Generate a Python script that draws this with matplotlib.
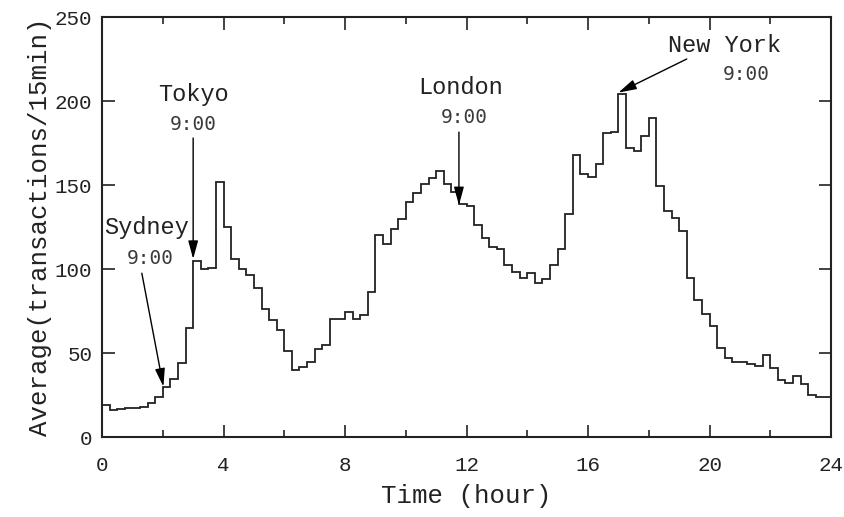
import numpy as np
import matplotlib
matplotlib.use("Agg")
import matplotlib.pyplot as plt

# average number of transactions per 15-minute bin over a day (96 bins)
bin_hours = 0.25
counts = [
    19, 16, 16.5, 17, 17.5, 18, 20, 23.6, 30, 34.7, 44, 65,
    105, 100, 100.5, 152, 125, 106, 100, 96.6, 88.5, 76, 69.6, 63.7,
    51.2, 39.9, 41.9, 44.4, 52.6, 54.6, 70.4, 70.4, 74.6, 70.5, 72.4, 86.5,
    120, 115, 123.8, 130, 139.7, 145.4, 150.4, 154, 158.3, 150.8, 145.8, 138.5,
    137.5, 126.2, 118.7, 113.3, 111.7, 102.4, 98.4, 94.8, 97.4, 91.7, 94, 102.4,
    111.9, 132.5, 167.9, 156.4, 155, 162.7, 181.2, 181.8, 204, 171.8, 170.4, 179.4,
    189.7, 149.6, 134.5, 130.6, 122.8, 94.8, 81.5, 73, 65.9, 52.8, 47.2, 44.8,
    44.4, 43.2, 42.3, 48.8, 41.3, 33.9, 32.3, 36.5, 31.3, 25, 24, 23.6,
]

# market openings: name, arrow tip (hour, value), label position, "9:00" position, arrow start
markets = ["Sydney", "Tokyo", "London", "New York"]
tip_x = [2.02, 3.0, 11.75, 17.0]
tip_y = [30, 106, 138, 205]
name_xy = [(1.47, 124.5), (3.0, 204), (11.82, 208), (20.5, 233)]
time_xy = [(1.58, 106.5), (3.0, 186), (11.93, 190), (21.2, 215.5)]
start_xy = [(1.31, 97.5), (3.0, 178), (11.75, 181.5), (19.25, 225)]

mono = "Liberation Mono"

fig = plt.figure(figsize=(8.44, 5.17), dpi=100, facecolor="white")
ax = fig.add_axes([0.1209, 0.1547, 0.8637, 0.8124])

edges = np.arange(len(counts) + 1) * bin_hours
ax.stairs(counts, edges, baseline=None, color="#222222", lw=1.3)

for i, name in enumerate(markets):
    ax.annotate("", xy=(tip_x[i], tip_y[i]), xytext=start_xy[i],
                arrowprops=dict(arrowstyle="-|>,head_length=1.1,head_width=0.3",
                                color="black", lw=1.0, mutation_scale=10,
                                shrinkA=0, shrinkB=0))
    ax.text(name_xy[i][0], name_xy[i][1], name, family=mono, fontsize=17,
            ha="center", va="center", color="#222222")
    ax.text(time_xy[i][0], time_xy[i][1], "9:00", family="DejaVu Sans Mono",
            fontsize=14, ha="center", va="center", color="#3a3a3a")

ax.set_xlim(0, 24)
ax.set_ylim(0, 250)
ax.set_xticks(range(0, 25, 4))
ax.set_xticks(range(2, 24, 4), minor=True)
ax.set_yticks(range(0, 251, 50))

ax.tick_params(which="both", direction="in", top=True, right=True,
               labelsize=15, width=1.2, colors="#222222")
ax.tick_params(which="major", length=9)
ax.tick_params(which="minor", length=5)
ax.tick_params(axis="x", which="major", pad=14)
ax.tick_params(axis="y", which="major", pad=7)
for lab in ax.get_xticklabels() + ax.get_yticklabels():
    lab.set_family(mono)

for s in ax.spines.values():
    s.set_linewidth(1.5)
    s.set_color("#222222")

ax.set_xlabel("Time (hour)", family=mono, fontsize=18.5, color="#222222", labelpad=6)
ax.set_ylabel("Average(transactions/15min)", family=mono, fontsize=18.5,
              color="#222222", labelpad=2)

fig.savefig("out.png", dpi=100, facecolor="white")
